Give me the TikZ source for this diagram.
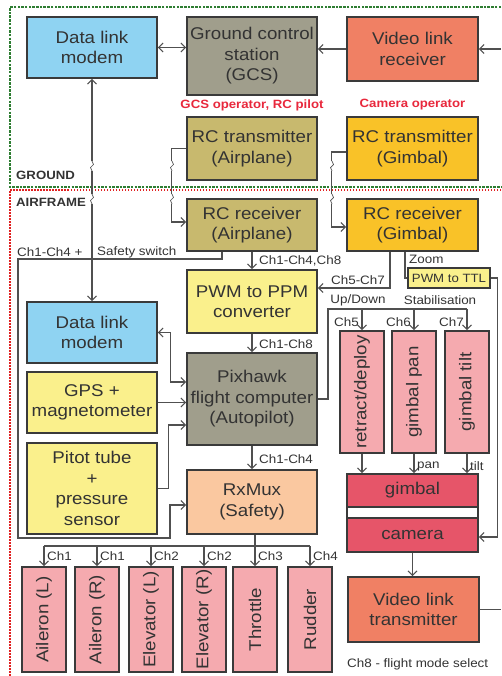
\documentclass[tikz,border=0pt]{standalone}
\usepackage{fontspec}
\setmainfont{Liberation Sans}[FakeStretch=1.1]
\usetikzlibrary{arrows.meta}
\definecolor{bdr}{HTML}{3A3A3A}
\definecolor{txt}{HTML}{333333}
\definecolor{lnc}{HTML}{505050}
\definecolor{cblue}{HTML}{8FD3F2}
\definecolor{cgray}{HTML}{A09E8C}
\definecolor{colive}{HTML}{C8B96E}
\definecolor{cgold}{HTML}{F9C228}
\definecolor{csalmon}{HTML}{F08064}
\definecolor{clyellow}{HTML}{FAF08C}
\definecolor{cpeach}{HTML}{FAC8A0}
\definecolor{cpink}{HTML}{F5AAAF}
\definecolor{cred}{HTML}{E65569}
\definecolor{rtext}{HTML}{E8283C}
\definecolor{grn}{HTML}{2E7D32}
\definecolor{redd}{HTML}{E02020}
\newcommand\wlmark[2]{%
  \fill[white] ({#1-2.5},{#2-5}) rectangle ({#1+2.5},{#2+5});
  \draw[lnc, line width=0.7pt] (#1,{#2-5}) -- ({#1+1.5},{#2-1.5}) -- ({#1-1.5},{#2+1.5}) -- (#1,{#2+5});}
\begin{document}
\begin{tikzpicture}[x=1pt,y=-1pt,
  box/.style={draw=bdr, line width=1.6pt, inner sep=0pt, align=center, text=txt,
    font=\fontsize{17}{20.5}\selectfont},
  lbl/.style={inner sep=0pt, text=txt, font=\fontsize{12.2}{14}\selectfont},
  rlbl/.style={inner sep=0pt, text=rtext, font=\bfseries\fontsize{12}{14}\selectfont},
  blbl/.style={inner sep=0pt, text=txt, font=\bfseries\fontsize{12}{14}\selectfont},
  conn/.style={draw=lnc, line width=1.1pt},
  arr/.style={conn, -{Straight Barb[length=4.5pt,width=9pt]}},
  darr/.style={conn, {Straight Barb[length=4.5pt,width=9pt]}-{Straight Barb[length=4.5pt,width=9pt]}},
  srv/.style={box, fill=cpink, minimum width=44pt, minimum height=105pt}
]
\useasboundingbox (0,0) rectangle (501,676);

% regions
\draw[grn, line width=1.5pt, dash pattern=on 2.5pt off 1.2pt] (501,7) -- (10,7) -- (10,187) -- (501,187);
\draw[redd, line width=1.5pt, dash pattern=on 1.5pt off 1.5pt] (501,190) -- (10,190) -- (10,676);
\node[blbl, anchor=west] (ground) at (16,175) {GROUND};
\node[blbl, anchor=west] (airframe) at (16,202) {AIRFRAME};

% ground boxes
\node[box, fill=cblue, minimum width=130pt, minimum height=61pt] (dlg) at (92,47.5) {Data link\\modem};
\node[box, fill=cgray, minimum width=130pt, minimum height=78pt] (gcs) at (252,56) {Ground control\\station\\(GCS)};
\node[box, fill=csalmon, minimum width=131pt, minimum height=64pt] (vrx) at (412.5,49) {Video link\\receiver};
\node[rlbl] (op1) at (252,105) {GCS operator, RC pilot};
\node[rlbl] (op2) at (412.5,105) {Camera operator};
\node[box, fill=colive, minimum width=130pt, minimum height=63pt] (rcta) at (252,148.5) {RC transmitter\\(Airplane)};
\node[box, fill=cgold, minimum width=131pt, minimum height=63pt] (rctg) at (412.5,148.5) {RC transmitter\\(Gimbal)};

% airframe boxes
\node[box, fill=colive, minimum width=130pt, minimum height=52pt] (rcra) at (252,225) {RC receiver\\(Airplane)};
\node[box, fill=cgold, minimum width=131pt, minimum height=52pt] (rcrg) at (412.5,225) {RC receiver\\(Gimbal)};
\node[box, fill=clyellow, minimum width=130pt, minimum height=63pt] (ppm) at (252,301.5) {PWM to PPM\\converter};
\node[box, fill=cgray, minimum width=130pt, minimum height=92pt] (px) at (252,399) {Pixhawk\\flight computer\\(Autopilot)};
\node[box, fill=cpeach, minimum width=130pt, minimum height=64pt] (rxm) at (252,502) {RxMux\\(Safety)};
\node[box, fill=cblue, minimum width=130pt, minimum height=61pt] (dla) at (92,332.5) {Data link\\modem};
\node[box, fill=clyellow, minimum width=130pt, minimum height=61pt] (gps) at (92,402.5) {GPS +\\magnetometer};
\node[box, fill=clyellow, minimum width=130pt, minimum height=91pt] (pit) at (92,488.5) {Pitot tube\\+\\pressure\\sensor};
\node[box, fill=clyellow, line width=1.3pt, minimum width=82pt, minimum height=20pt,
  font=\fontsize{12}{14}\selectfont] (ttl) at (449,278) {PWM to TTL};
\node[box, fill=cpink, minimum width=44pt, minimum height=122pt] (ret) at (362,392) {\rotatebox{90}{retract/deploy}};
\node[box, fill=cpink, minimum width=44pt, minimum height=122pt] (pan) at (414,392) {\rotatebox{90}{gimbal pan}};
\node[box, fill=cpink, minimum width=44pt, minimum height=122pt] (tilt) at (467,392) {\rotatebox{90}{gimbal tilt}};
\node[box, fill=white, minimum width=131pt, minimum height=78pt] (grp) at (412.5,513) {};
\node[box, fill=cred, minimum width=131pt, minimum height=33pt] (gim) at (412.5,490.5) {gimbal};
\node[box, fill=cred, minimum width=131pt, minimum height=34pt] (cam) at (412.5,535) {camera};
\node[box, fill=csalmon, minimum width=131pt, minimum height=65pt] (vtx) at (413.5,609.5) {Video link\\transmitter};

\node[srv] (sv1) at (44,619.5) {\rotatebox{90}{Aileron (L)}};
\node[srv] (sv2) at (97,619.5) {\rotatebox{90}{Aileron (R)}};
\node[srv] (sv3) at (151,619.5) {\rotatebox{90}{Elevator (L)}};
\node[srv] (sv4) at (204,619.5) {\rotatebox{90}{Elevator (R)}};
\node[srv] (sv5) at (255,619.5) {\rotatebox{90}{Throttle}};
\node[srv] (sv6) at (310,619.5) {\rotatebox{90}{Rudder}};

% connectors - ground
\draw[darr] (dlg.east) -- (dlg.east -| gcs.west);
\draw[arr] (vrx.west) -- (vrx.west -| gcs.east);
\coordinate (vr) at (501,49);
\coordinate (vt) at (501,609.5);
\draw[arr] (vr) -- (vr -| vrx.east);
\draw[conn] (vtx.east) -- (vt);

% wireless links
\draw[darr] (dlg.south) -- (dla.north);
\draw[arr] (rcta.west) -- ++(-15,0) |- ([yshift=3pt]rcra.west);
\draw[arr] ([yshift=-3.5pt]rctg.west) -- ++(-15,0) |- ([yshift=-2pt]rcrg.west);
\wlmark{92}{166}
\wlmark{92}{199}
\wlmark{172}{166}
\wlmark{172}{199}
\wlmark{332}{166}
\wlmark{332}{199}

% airplane chain
\draw[arr] (rcra.south) -- (ppm.north);
\node[lbl, anchor=west] (l1) at (259,261) {Ch1-Ch4,Ch8};
\coordinate (sa) at (18,259);
\coordinate (sb) at (170,538);
\draw[arr] ([xshift=-30pt]rcra.south) |- (sa) |- (sb) |- ([yshift=-3pt]rxm.west);
\node[lbl, anchor=west] (l2) at (17,252) {Ch1-Ch4 +};
\node[lbl, anchor=west] (l3) at (97,252) {Safety switch};
\draw[arr] (ppm.south) -- (px.north);
\node[lbl, anchor=west] (l4) at (259,344) {Ch1-Ch8};
\draw[arr] (px.south) -- (rxm.north);
\node[lbl, anchor=west] (l5) at (259,459) {Ch1-Ch4};
\draw[darr] (dla.east) -- ++(13,0) |- ([yshift=17pt]px.west);
\draw[arr] (gps.east) -- (gps.east -| px.west);
\draw[arr] (pit.east) -- ++(11,0) |- ([yshift=-26pt]px.west);

% gimbal chain
\draw[arr] ([xshift=-22.5pt]rcrg.south) |- ([yshift=13.5pt]ppm.east);
\node[lbl] (l6) at (358,280) {Ch5-Ch7};
\draw[conn] ([xshift=-7.5pt]rcrg.south) |- (ttl.west);
\node[lbl, anchor=west] (l7) at (409,259) {Zoom};
\draw[arr] (ttl.east) -- ++(7,0) |- ([yshift=-2pt]cam.east);
\coordinate (bus) at (328,309);
\draw[conn] (px.east) -| (bus) -- (bus -| tilt.north);
\draw[arr] (bus -| ret.north) -- (ret.north);
\draw[arr] (bus -| pan.north) -- (pan.north);
\draw[arr] (bus -| tilt.north) -- (tilt.north);
\node[lbl] (l8) at (358,300) {Up/Down};
\node[lbl] (l9) at (440,300) {Stabilisation};
\node[lbl, anchor=east] (l10) at (359,322) {Ch5};
\node[lbl, anchor=east] (l11) at (411,322) {Ch6};
\node[lbl, anchor=east] (l12) at (464,322) {Ch7};
\draw[arr] (ret.south) -- (ret.south |- grp.north);
\draw[arr] (pan.south) -- (pan.south |- grp.north);
\draw[arr] (tilt.south) -- (tilt.south |- grp.north);
\node[lbl, anchor=west] (l13) at (417,466) {pan};
\node[lbl, anchor=west] (l14) at (470,466) {tilt};
\draw[arr] (cam.south) -- (cam.south |- vtx.north);

% servo bus
\coordinate (sbus) at (44,546);
\draw[conn] (sbus) -- (sbus -| sv6.north);
\draw[arr] ([xshift=3pt]rxm.south) -- (sv5.north);
\draw[arr] (sbus -| sv1.north) -- (sv1.north);
\draw[arr] (sbus -| sv2.north) -- (sv2.north);
\draw[arr] (sbus -| sv3.north) -- (sv3.north);
\draw[arr] (sbus -| sv4.north) -- (sv4.north);
\draw[arr] (sbus -| sv6.north) -- (sv6.north);
\node[lbl, anchor=west] (c1) at (47,556) {Ch1};
\node[lbl, anchor=west] (c2) at (100,556) {Ch1};
\node[lbl, anchor=west] (c3) at (154,556) {Ch2};
\node[lbl, anchor=west] (c4) at (207,556) {Ch2};
\node[lbl, anchor=west] (c5) at (258,556) {Ch3};
\node[lbl, anchor=west] (c6) at (313,556) {Ch4};
\node[lbl, anchor=west] (note) at (347,664) {Ch8 - flight mode select};
\end{tikzpicture}
\end{document}
